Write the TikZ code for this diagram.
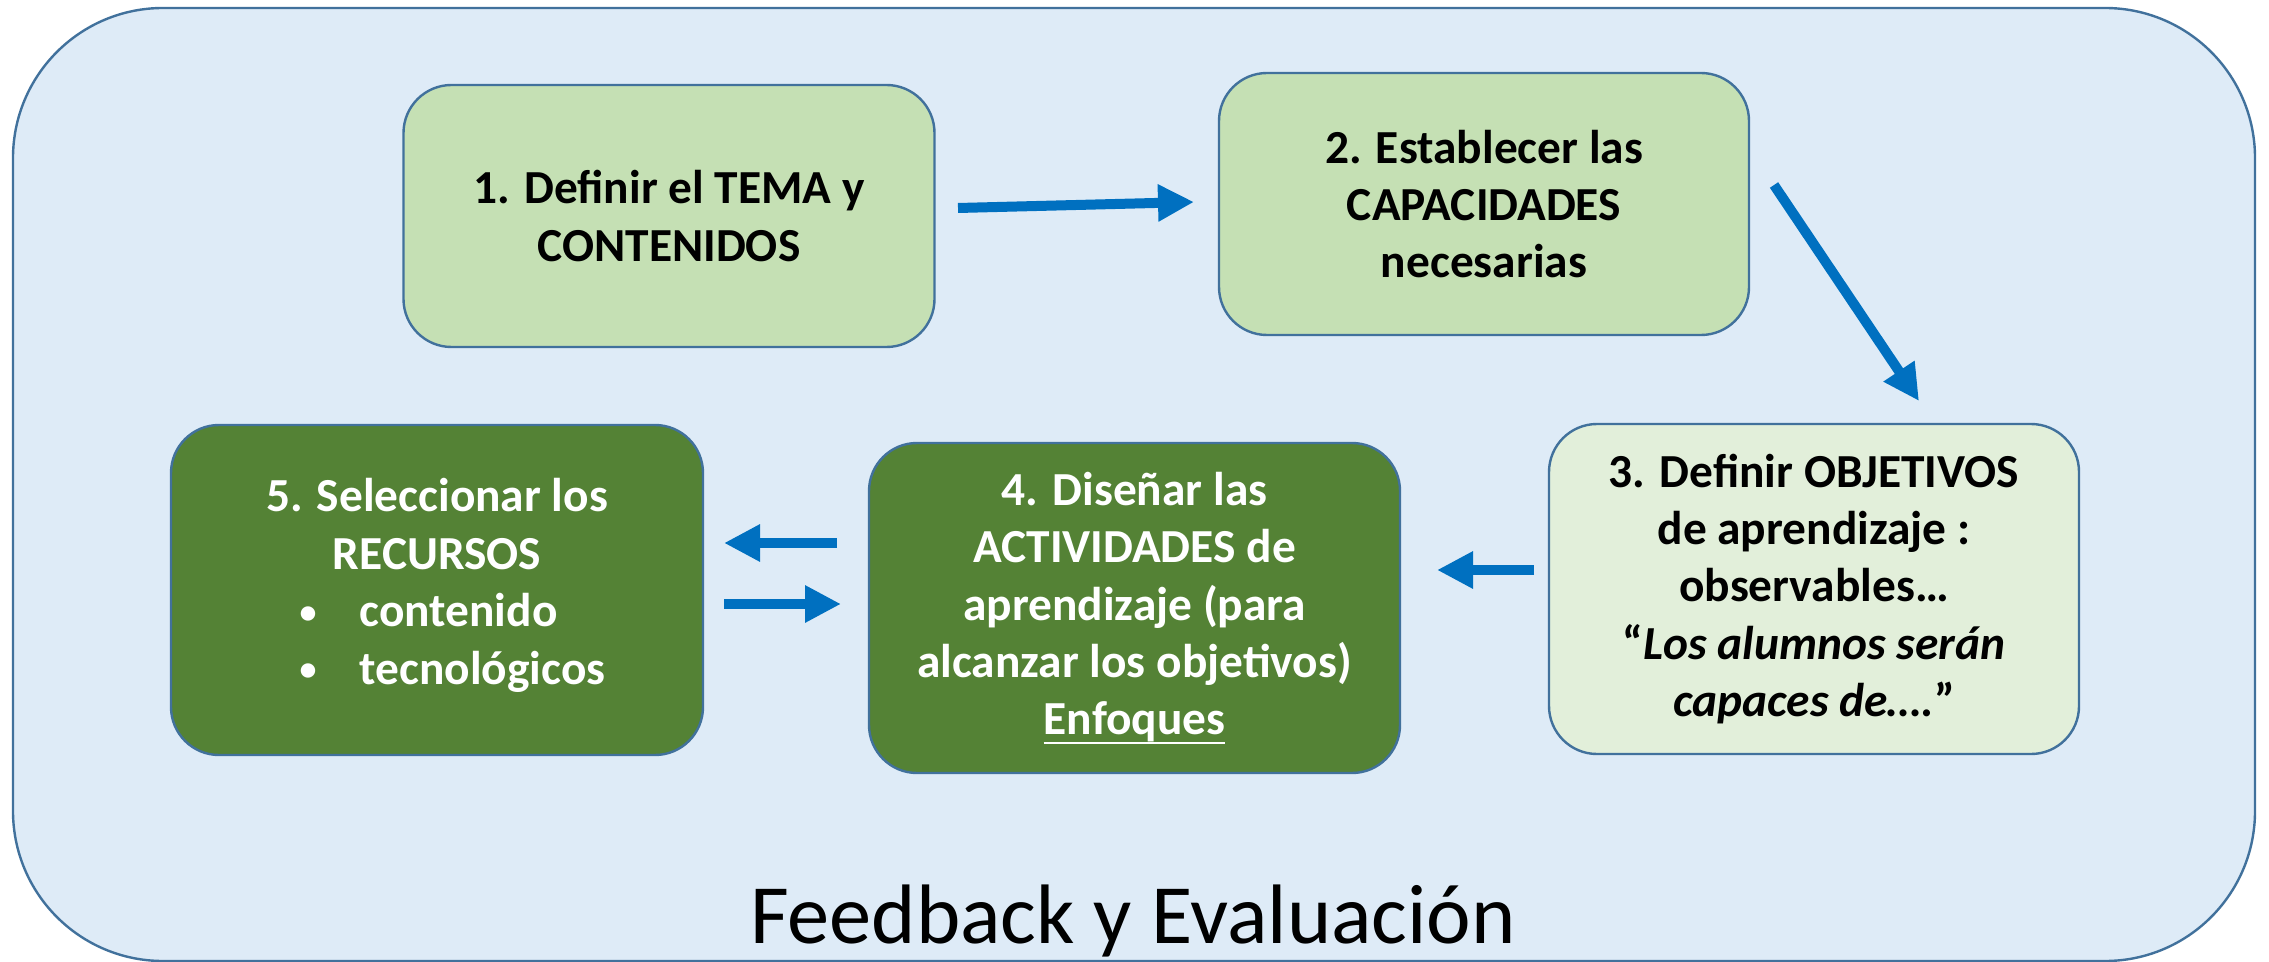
\documentclass[tikz,border=0pt]{standalone}
\usepackage{fontspec}
\setmainfont{Carlito}
\usetikzlibrary{arrows.meta}
\definecolor{bgblue}{HTML}{DEEBF7}
\definecolor{edgeblue}{HTML}{41719C}
\definecolor{lgreen}{HTML}{C5E0B4}
\definecolor{pgreen}{HTML}{E2EFDA}
\definecolor{dgreen}{HTML}{548235}
\definecolor{arrowblue}{HTML}{0070C0}
\newcommand\myul[1]{\setbox0\hbox{#1}\rlap{\rule[-4.6pt]{\wd0}{1.1pt}}\box0}
\newcommand\mybul{\makebox[31pt][l]{\hspace*{1pt}\raisebox{1.8pt}{\fontsize{17pt}{17pt}\selectfont •}}}
\begin{document}
\begin{tikzpicture}[x=0.5pt,y=-0.5pt,
  stepbox/.style={draw=edgeblue, line width=1.2pt, rounded corners=24pt, align=center, inner sep=0pt,
    font=\fontsize{23.7pt}{28.7pt}\selectfont\bfseries},
  flow/.style={draw=arrowblue, line width=5pt, -{Triangle[width=17.5pt,length=18pt]}}]
\useasboundingbox (0,0) rectangle (2269,962);
\node[draw=edgeblue, fill=bgblue, line width=1.2pt, rounded corners=75pt, minimum width=1121pt,
  minimum height=476.5pt, inner sep=0pt] (frame) at (1134,484.5) {};
\node[stepbox, fill=lgreen, minimum width=265.5pt, minimum height=131pt] (b1) at (669,216)
  {1. Definir el TEMA y\\CONTENIDOS};
\node[stepbox, fill=lgreen, minimum width=265pt, minimum height=131pt] (b2) at (1484,204)
  {2. Establecer las\\CAPACIDADES\\necesarias};
\node[stepbox, fill=pgreen, minimum width=265pt, minimum height=165pt] (b3) at (1814,589)
  {3. Definir OBJETIVOS\\de aprendizaje :\\observables…\\“\textit{Los alumnos serán}\\\textit{capaces de….}”};
\node[stepbox, fill=dgreen, text=white, minimum width=265.5pt, minimum height=165pt] (b4) at (1134.5,608)
  {4. Diseñar las\\ACTIVIDADES de\\aprendizaje (para\\alcanzar los objetivos)\\\myul{Enfoques}};
\node[stepbox, fill=dgreen, text=white, minimum width=266pt, minimum height=165pt] (b5) at (437,590)
  {5. Seleccionar los\\RECURSOS\\\hspace*{14.5pt}\begin{tabular}[t]{@{}l@{}}\mybul contenido\\\mybul tecnológicos\end{tabular}};
\node[font=\fontsize{42.2pt}{50pt}\selectfont, anchor=base, inner sep=0pt] (fb) at (1133,943) {Feedback y Evaluación};
\coordinate (a1s) at (958,208);  \coordinate (a1e) at (1194,202);
\coordinate (a2s) at (1774,185); \coordinate (a2e) at (1919,401);
\coordinate (a3s) at (1534,570); \coordinate (a3e) at (1437,570);
\coordinate (a4s) at (837,543);  \coordinate (a4e) at (724,543);
\coordinate (a5s) at (724,604);  \coordinate (a5e) at (841,604);
\draw[flow] (a1s) -- (a1e);
\draw[flow] (a2s) -- (a2e);
\draw[flow] (a3s) -- (a3e);
\draw[flow] (a4s) -- (a4e);
\draw[flow] (a5s) -- (a5e);
\end{tikzpicture}
\end{document}
